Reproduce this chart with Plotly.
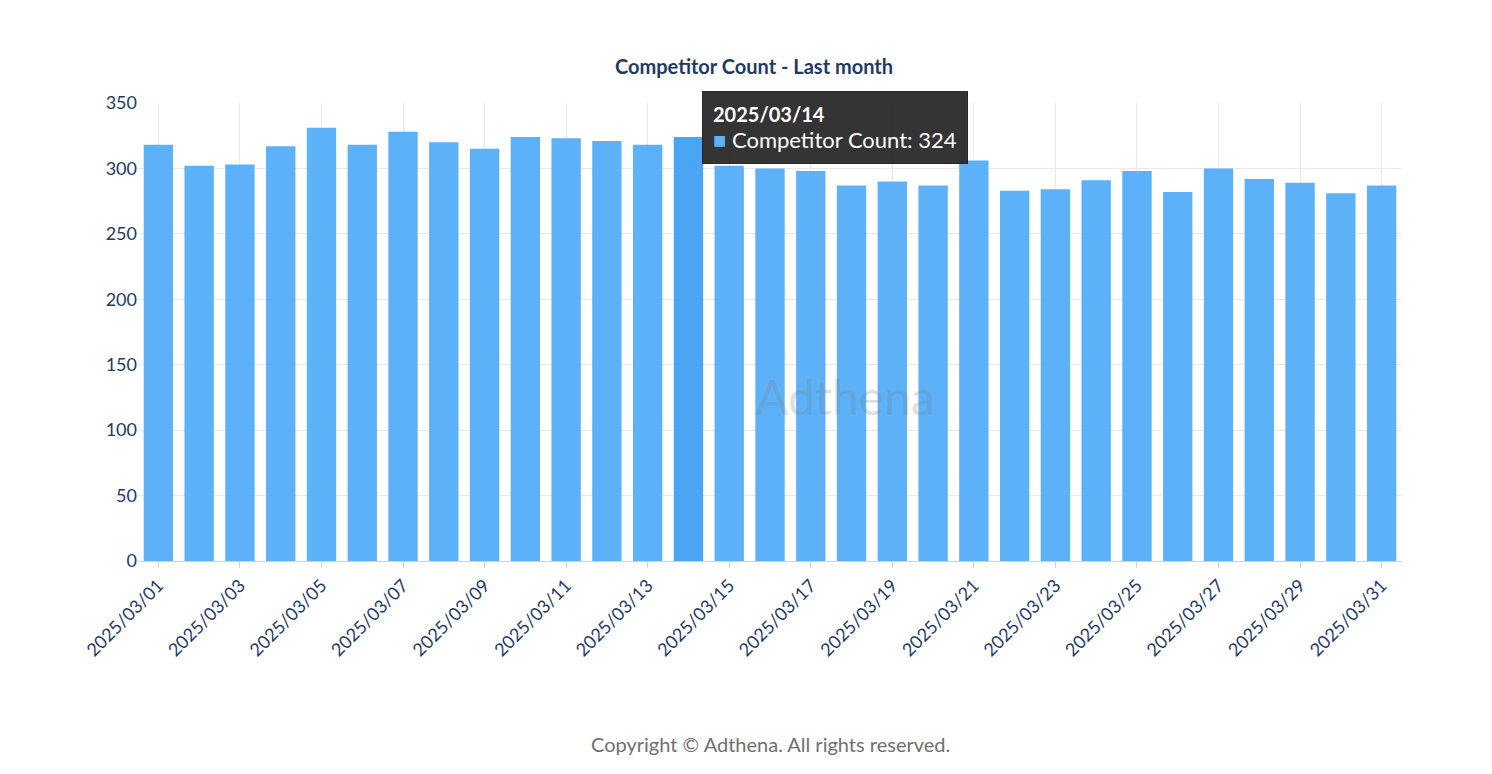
import plotly.graph_objects as go

# data
dates = [f"2025/03/{d:02d}" for d in range(1, 32)]
counts = [318, 302, 303, 317, 331, 318, 328, 320, 315, 324,
          323, 321, 318, 324, 302, 300, 298, 287, 290, 287,
          306, 283, 284, 291, 298, 282, 300, 292, 289, 281, 287]
tick_labels = dates[::2]
y_ticks = [0, 50, 100, 150, 200, 250, 300, 350]
highlight = "2025/03/14"

navy = "#1f3a64"
bar_colors = ["#4aa5f3" if d == highlight else "#5cb1f8" for d in dates]

fig = go.Figure(
    go.Bar(x=dates, y=counts, marker={"color": bar_colors, "line": {"width": 0}},
           width=0.72, name="Competitor Count")
)

fig.update_layout(
    width=1492, height=774,
    margin={"l": 130, "r": 98, "t": 95, "b": 221},
    paper_bgcolor="white", plot_bgcolor="white",
    font={"family": "Lato, Noto Sans, sans-serif", "color": navy, "size": 18},
    showlegend=False,
    title={"text": "<b>Competitor Count - Last month</b>", "x": 0.5, "xanchor": "center",
           "y": 1 - 59 / 774, "yref": "container", "yanchor": "middle",
           "font": {"size": 20, "color": navy}},
)
fig.update_xaxes(
    type="category", tickvals=tick_labels, ticktext=tick_labels, tickangle=-45,
    showgrid=True, gridcolor="#e6e9f0", showline=True, linecolor="#c9d3e6",
    ticks="outside", tickcolor="#c9d3e6", ticklen=6,
    tickfont={"size": 18, "color": navy},
)
fig.update_yaxes(
    range=[0, 350], tickvals=y_ticks, showgrid=True, gridcolor="#e6e9f0",
    zeroline=False, tickfont={"size": 18, "color": navy}, ticksuffix="  ",
)

# watermark
fig.add_annotation(text="Adthena", x=0.56, y=0.36, xref="paper", yref="paper",
                   showarrow=False, font={"size": 48, "color": "rgba(120,130,140,0.25)"})

# tooltip
fig.add_annotation(
    text="<b>2025/03/14</b><br><span style='font-size:22px'>"
         "<span style='color:#5cb1f8'>■</span> Competitor Count: 324</span>",
    x=highlight, y=350, xref="x", yref="y", xshift=14, yshift=12,
    xanchor="left", yanchor="top", showarrow=False, align="left",
    bgcolor="rgba(30,30,30,0.9)", bordercolor="rgba(30,30,30,0.9)", borderpad=10,
    font={"size": 20, "color": "white"},
)

fig.add_annotation(text="Copyright © Adthena. All rights reserved.",
                   x=0.5, y=(553 - 736) / 458, xref="paper", yref="paper",
                   yanchor="middle", showarrow=False,
                   font={"size": 20, "color": "#707070"})

fig.write_html("out.html")
